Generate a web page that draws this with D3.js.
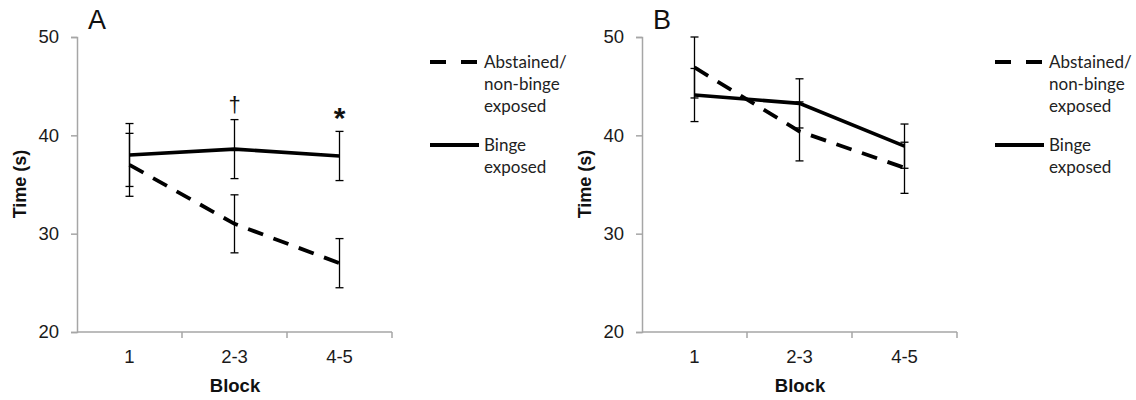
<!DOCTYPE html>
<html><head><meta charset="utf-8">
<script src="https://cdn.jsdelivr.net/npm/d3@7"></script>
<style>body{margin:0;background:#fff}</style>
</head><body>
<svg id="c" width="1136" height="400"></svg>
<script>
const categories = ["1", "2-3", "4-5"];
const yTicks = [20, 30, 40, 50];
const seriesNames = ["Abstained/ non-binge exposed", "Binge exposed"];
const legendLines = [["Abstained/", "non-binge", "exposed"], ["Binge", "exposed"]];
// Panel A
const aAbstained = [37.0, 31.0, 27.0];
const aAbstainedErr = [3.2, 2.95, 2.5];
const aBinge = [38.0, 38.6, 37.9];
const aBingeErr = [3.2, 3.0, 2.5];
const aMarks = ["", "†", "*"];
// Panel B
const bAbstained = [46.9, 40.4, 36.7];
const bAbstainedErr = [3.1, 3.0, 2.6];
const bBinge = [44.1, 43.25, 38.9];
const bBingeErr = [2.7, 2.5, 2.25];
const bMarks = ["", "", ""];

const svg = d3.select("#c");
const axisCol = "#a6a6a6";
const SANS = "'Liberation Sans', Arial, sans-serif";

function panel(opts) {
  const g = svg.append("g");
  const x = d3.scaleBand().domain(categories).range([opts.x0, opts.x0 + 315]);
  const y = d3.scaleLinear().domain([20, 50]).range([332, 37]);
  // y axis
  const ya = g.append("g").attr("transform", `translate(${opts.x0},0)`)
    .call(d3.axisLeft(y).tickValues(yTicks).tickSize(6).tickPadding(12));
  ya.attr("font-family", SANS);
  ya.select(".domain").attr("stroke", axisCol).attr("stroke-width", 1.5);
  ya.selectAll(".tick line").attr("stroke", axisCol).attr("stroke-width", 1.5);
  ya.selectAll(".tick text").attr("font-family", SANS).attr("font-size", 18.5).attr("fill", "#1a1a1a");
  // x axis
  const xa = g.append("g").attr("transform", `translate(0,332)`)
    .call(d3.axisBottom(x).tickSize(0).tickPadding(18));
  xa.attr("font-family", SANS);
  xa.select(".domain").attr("stroke", axisCol).attr("stroke-width", 1.5).attr("d", `M${opts.x0},0H${opts.x0 + 315}`);
  xa.selectAll(".tick text").attr("font-family", SANS).attr("font-size", 18.5).attr("fill", "#1a1a1a");
  const bounds = [1, 2, 3].map(i => opts.x0 + i * x.step());
  g.selectAll(".xt").data(bounds).enter().append("line")
    .attr("x1", d => d).attr("x2", d => d).attr("y1", 332).attr("y2", 338)
    .attr("stroke", axisCol).attr("stroke-width", 1.5);
  // labels
  g.append("text").attr("x", opts.x0 + 11).attr("y", 29).text(opts.label)
    .attr("font-family", SANS).attr("font-size", 27).attr("fill", "#111");
  g.append("text").attr("transform", `translate(${opts.x0 - 51},184) rotate(-90)`)
    .attr("text-anchor", "middle").text("Time (s)")
    .attr("font-family", SANS).attr("font-weight", "bold").attr("font-size", 18).attr("fill", "#111");
  g.append("text").attr("x", opts.x0 + 158).attr("y", 392).attr("text-anchor", "middle").text("Block")
    .attr("font-family", SANS).attr("font-weight", "bold").attr("font-size", 18.5).attr("fill", "#111");

  const cx = c => x(c) + x.bandwidth() / 2;
  const line = d3.line().x((d, i) => cx(categories[i])).y(d => y(d));
  const series = [
    {vals: opts.abst, err: opts.abstErr, dash: "16,11", w: 3.8},
    {vals: opts.binge, err: opts.bingeErr, dash: null, w: 3.6}
  ];
  series.forEach(s => {
    s.vals.forEach((v, i) => {
      const xc = cx(categories[i]);
      g.append("line").attr("x1", xc).attr("x2", xc).attr("y1", y(v + s.err[i])).attr("y2", y(v - s.err[i]))
        .attr("stroke", "#000").attr("stroke-width", 1.3);
      [v + s.err[i], v - s.err[i]].forEach(e => {
        g.append("line").attr("x1", xc - 4).attr("x2", xc + 4).attr("y1", y(e)).attr("y2", y(e))
          .attr("stroke", "#000").attr("stroke-width", 1.3);
      });
    });
  });
  series.forEach(s => {
    g.append("path").datum(s.vals).attr("d", line).attr("fill", "none").attr("stroke", "#000")
      .attr("stroke-width", s.w).attr("stroke-dasharray", s.dash);
  });
  // significance marks
  opts.marks.forEach((m, i) => {
    if (!m) return;
    const top = opts.binge[i] + opts.bingeErr[i];
    g.append("text").attr("x", cx(categories[i])).attr("y", y(top) - (m === "*" ? 3 : 8))
      .attr("text-anchor", "middle").text(m)
      .attr("font-family", SANS).attr("font-size", m === "*" ? 30 : 22)
      .attr("font-weight", m === "*" ? "bold" : "normal").attr("fill", "#111");
  });
  // legend
  const lx = opts.lx;
  const items = [{dash: "16,15", y: 62}, {dash: null, y: 145}];
  items.forEach((it, k) => {
    g.append("line").attr("x1", lx).attr("x2", lx + 49).attr("y1", it.y).attr("y2", it.y)
      .attr("stroke", "#000").attr("stroke-width", 3.8).attr("stroke-dasharray", it.dash);
    legendLines[k].forEach((t, j) => {
      g.append("text").attr("x", lx + 54).attr("y", it.y + 6 + j * 22).text(t)
        .attr("font-family", "Lato, 'Open Sans', sans-serif").attr("font-size", 17).attr("fill", "#222");
    });
  });
}

panel({x0: 77, label: "A", abst: aAbstained, abstErr: aAbstainedErr, binge: aBinge, bingeErr: aBingeErr, marks: aMarks, lx: 430});
panel({x0: 642, label: "B", abst: bAbstained, abstErr: bAbstainedErr, binge: bBinge, bingeErr: bBingeErr, marks: bMarks, lx: 995});
</script>
</body></html>
